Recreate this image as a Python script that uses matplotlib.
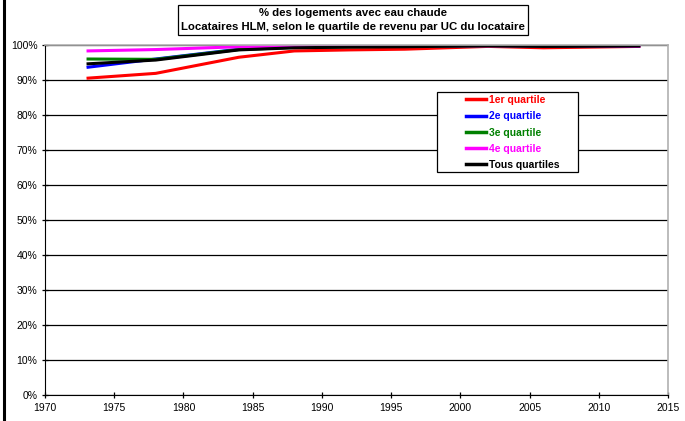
import matplotlib
matplotlib.use("Agg")
import matplotlib.pyplot as plt
from matplotlib.lines import Line2D
from matplotlib.patches import Rectangle
from matplotlib.ticker import FuncFormatter

plt.rcParams["font.family"] = ["Liberation Sans", "DejaVu Sans"]

years = [1973, 1978, 1984, 1988, 1992, 1996, 2002, 2006, 2013]
q1 = [90.5, 91.9, 96.5, 98.3, 98.6, 98.8, 99.6, 99.2, 99.6]
q2 = [93.6, 96.0, 98.8, 99.4, 99.6, 99.7, 99.8, 99.7, 99.8]
q3 = [96.0, 95.9, 98.7, 99.3, 99.5, 99.6, 99.8, 99.7, 99.8]
q4 = [98.3, 98.7, 99.5, 99.7, 99.7, 99.8, 99.8, 99.8, 99.6]
tous = [94.6, 95.7, 98.6, 99.2, 99.4, 99.5, 99.8, 99.6, 99.7]

labels = ["1er quartile", "2e quartile", "3e quartile", "4e quartile", "Tous quartiles"]
colors = ["#ff0000", "#0000ff", "#008000", "#ff00ff", "#000000"]
series = [q1, q2, q3, q4, tous]

W, H = 685, 421
fig = plt.figure(figsize=(W / 100, H / 100), dpi=100)
ax = fig.add_axes([45 / W, 26 / H, 623 / W, 350 / H])

for vals, col, lab in zip(series, colors, labels):
    ax.plot(years, vals, color=col, lw=2.2, label=lab, solid_capstyle="butt")

ax.set_xlim(1970, 2015)
ax.set_ylim(0, 100)
ax.set_xticks(range(1970, 2016, 5))
ax.set_yticks(range(0, 101, 10))
ax.yaxis.set_major_formatter(FuncFormatter(lambda v, _: f"{v:.0f}%"))
ax.grid(axis="y", color="black", lw=0.9)
ax.set_axisbelow(True)
ax.tick_params(labelsize=7.5, length=4, width=0.9, direction="inout")
for s in ("top", "right"):
    ax.spines[s].set_color("#b0b0b0")
    ax.spines[s].set_linewidth(1.2)

# legend: frame drawn separately so the padding matches the original
ax.add_patch(Rectangle((437 / W, 1 - 172 / H), 141 / W, 80 / H,
                       transform=fig.transFigure, facecolor="white",
                       edgecolor="black", lw=0.9, zorder=4, clip_on=False))
handles = [Line2D([], [], color=c, lw=2.5) for c in colors]
leg = ax.legend(handles, labels, loc="upper left",
                bbox_to_anchor=(466 / W, 1 - 95 / H), bbox_transform=fig.transFigure,
                frameon=False, prop={"size": 7.5, "weight": "bold"},
                handlelength=1.9, handletextpad=0.35, labelspacing=0.6,
                borderpad=0, borderaxespad=0)
leg.set_zorder(5)
for txt, c in zip(leg.get_texts(), colors):
    txt.set_color(c)

fig.text(353 / W, 1 - 20 / H,
         "% des logements avec eau chaude\nLocataires HLM, selon le quartile de revenu par UC du locataire",
         ha="center", va="center", fontsize=8.2, fontweight="bold", linespacing=1.5,
         bbox=dict(boxstyle="square,pad=0.3", facecolor="white", edgecolor="black", lw=0.9))

fig.add_artist(Line2D([4 / W, 4 / W], [0, 1], color="black", lw=2.2,
                      transform=fig.transFigure))

fig.savefig("out.png", dpi=100, facecolor="white")
